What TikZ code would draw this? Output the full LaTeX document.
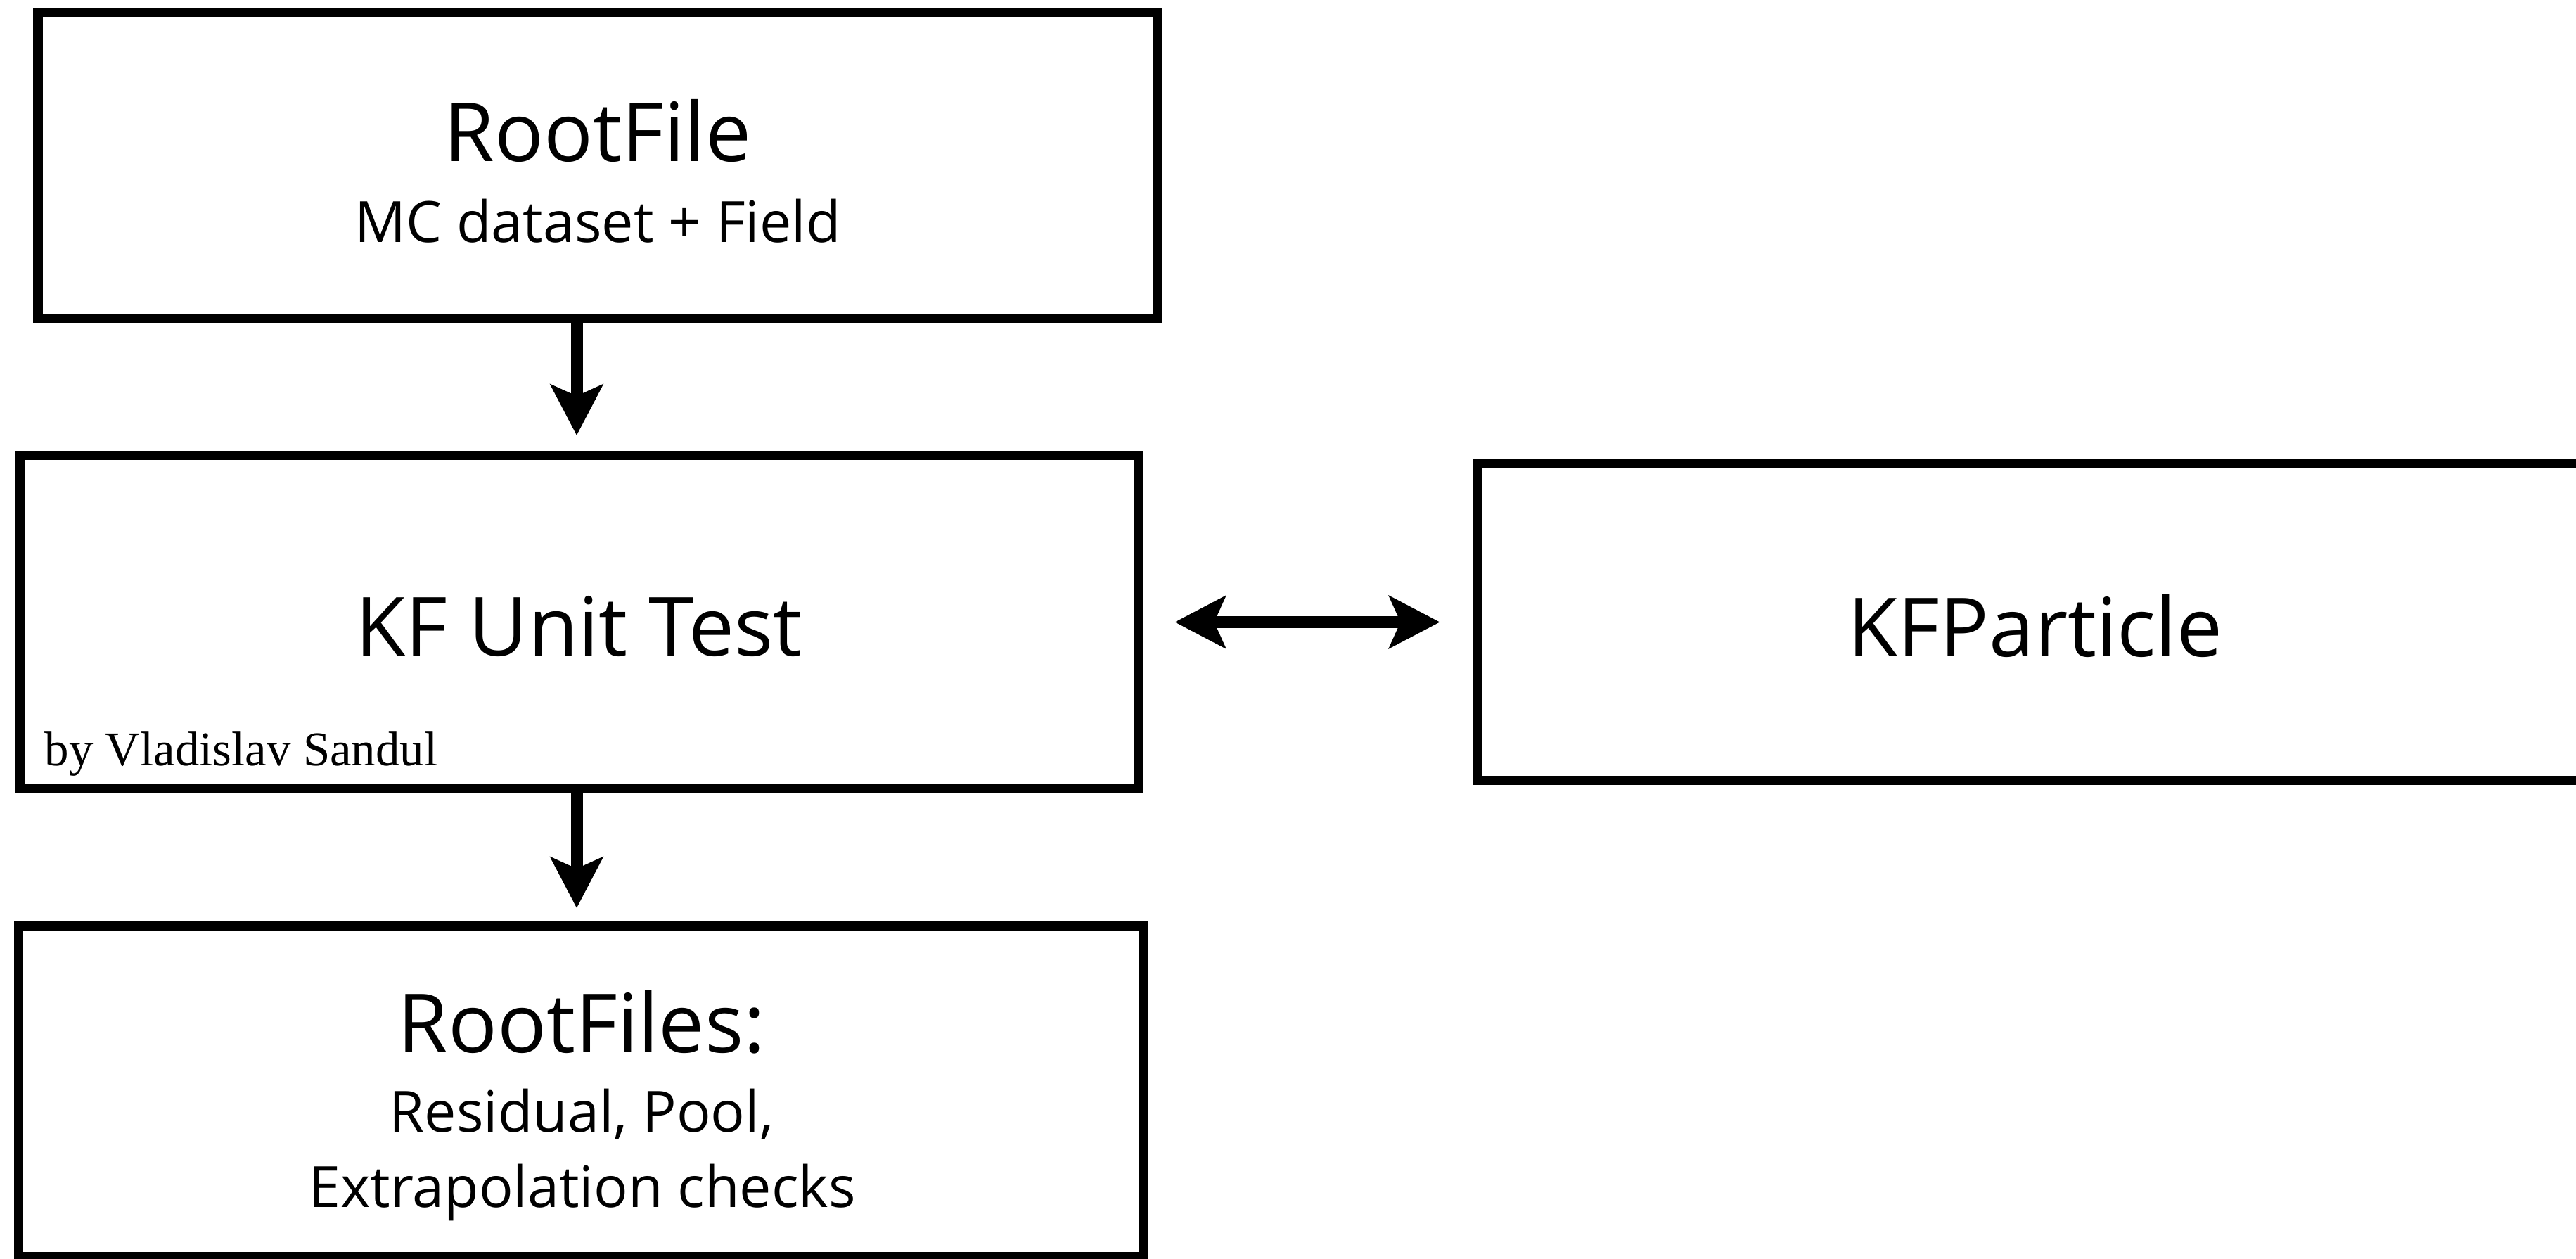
\documentclass[tikz,border=0pt]{standalone}
\usepackage{fontspec}
\setmainfont{Open Sans}
\newfontfamily\byfont{Liberation Serif}
\usetikzlibrary{arrows.meta}
\tikzset{
  box/.style={draw,line width=0.13cm,inner sep=0pt},
  conn/.style={line width=0.17cm,-{Stealth[length=0.72cm,width=0.74cm,inset=0.16cm]}},
  titletext/.style={font=\fontsize{33pt}{40pt}\selectfont,inner sep=0pt,anchor=base},
  subtext/.style={font=\fontsize{23pt}{28pt}\selectfont,inner sep=0pt,anchor=base},
}
\begin{document}
\begin{tikzpicture}
\useasboundingbox (0,0) rectangle (36.63,17.9);
\clip (0,0) rectangle (36.63,17.9);
% boxes
\node[box,minimum width=15.91cm,minimum height=4.345cm] (rf) at (8.495,15.55) {};
\node[box,minimum width=15.90cm,minimum height=4.73cm] (kf) at (8.23,9.055) {};
\node[box,minimum width=15.99cm,minimum height=4.70cm] (out) at (8.265,2.38) {};
\node[box,minimum width=15.88cm,minimum height=4.51cm] (kfp) at (28.94,9.055) {};
% texts
\node[titletext] (rf-t) at (8.50,15.60) {RootFile};
\node[subtext] (rf-s) at (8.50,14.45) {MC dataset + Field};
\node[titletext] (kf-t) at (8.23,8.574) {KF Unit Test};
\node[inner sep=0pt,anchor=base west,font=\byfont\fontsize{19.6pt}{24pt}\selectfont] (kf-by) at (0.63,7.01) {by Vladislav Sandul};
\node[titletext] (kfp-t) at (28.94,8.56) {KFParticle};
\node[titletext] (out-t) at (8.27,2.935) {RootFiles:};
\node[subtext] (out-s1) at (8.27,1.80) {Residual, Pool,};
\node[subtext] (out-s2) at (8.28,0.73) {Extrapolation checks};
% arrows
\coordinate (ax) at (8.2,0);
\draw[conn,shorten >=0.225cm] (ax |- rf.south) -- (ax |- kf.north);
\draw[conn,shorten >=0.195cm] (ax |- kf.south) -- (ax |- out.north);
\draw[conn,{Stealth[length=0.72cm,width=0.74cm,inset=0.16cm]}-{Stealth[length=0.72cm,width=0.74cm,inset=0.16cm]},shorten <=0.46cm,shorten >=0.46cm] (kf) -- (kfp);
\end{tikzpicture}
\end{document}
